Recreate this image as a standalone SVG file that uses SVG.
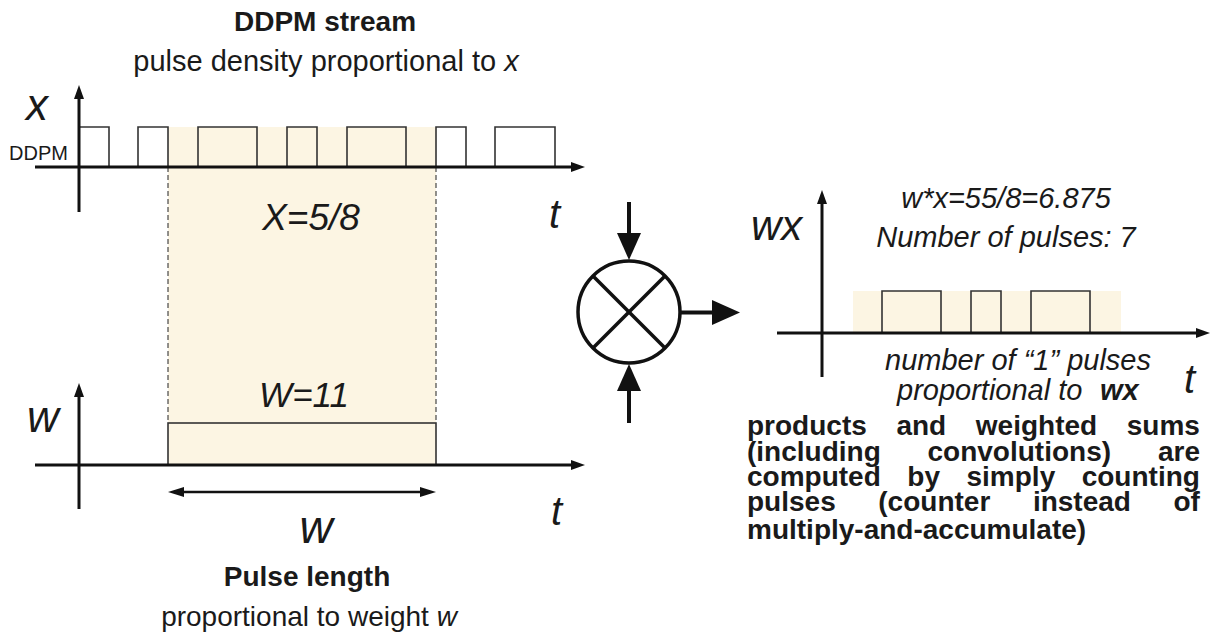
<svg xmlns="http://www.w3.org/2000/svg" width="1215" height="639" viewBox="0 0 1215 639">
<style>
  text { font-family: "Liberation Sans", Arial, sans-serif; fill: #1a1a1a; }
  .it { font-style: italic; }
  .b { font-weight: bold; }
  .axis { stroke: #111; stroke-width: 3; fill: none; }
  .pulse { stroke: #333; stroke-width: 1.6; fill: none; }
  .shade { fill: #fcf5e3; stroke: none; }
  .dash { stroke: #222; stroke-width: 1; stroke-dasharray: 5 3; fill: none; }
  .conn { stroke: #111; stroke-width: 4; fill: none; }
  .head { fill: #111; stroke: none; }
</style>
<defs>
  <marker id="ax" markerUnits="userSpaceOnUse" markerWidth="14" markerHeight="10" refX="6" refY="5" orient="auto">
    <path d="M0,0 L14,5 L0,10 Z" fill="#111"/>
  </marker>
  <marker id="dh" markerUnits="userSpaceOnUse" markerWidth="16" markerHeight="10" refX="8" refY="5" orient="auto-start-reverse">
    <path d="M0,0 L16,5 L0,10 Z" fill="#111"/>
  </marker>
</defs>
<rect width="1215" height="639" fill="#ffffff"/>

<!-- top chart: DDPM stream -->
<g id="ddpm-chart">
  <rect class="shade" x="168" y="127" width="268" height="338"/>
  <line class="dash" x1="168" y1="167" x2="168" y2="423"/>
  <line class="dash" x1="436" y1="167" x2="436" y2="423"/>
  <path class="pulse" d="M79,167 V127 H109 V167 M138,167 V127 H168 V167 M198,167 V127 H257 V167 M287,167 V127 H317 V167 M347,167 V127 H406 V167 M436,167 V127 H466 V167 M495,167 V127 H555 V167"/>
  <line class="axis" x1="35" y1="167" x2="577" y2="167" marker-end="url(#ax)"/>
  <line class="axis" x1="79" y1="212" x2="79" y2="93" marker-end="url(#ax)"/>
  <text class="b" x="325" y="31" font-size="28" text-anchor="middle">DDPM stream</text>
  <text x="326" y="71" font-size="29" text-anchor="middle">pulse density proportional to <tspan class="it">x</tspan></text>
  <text class="it" x="26" y="120" font-size="44">x</text>
  <text x="9" y="160" font-size="20">DDPM</text>
  <text class="it" x="311" y="230" font-size="37" text-anchor="middle">X=5/8</text>
  <text class="it" x="549" y="228" font-size="40">t</text>
</g>

<!-- bottom chart: weight pulse -->
<g id="weight-chart">
  <rect x="168" y="423" width="268" height="42" fill="#fcf5e3" stroke="#333" stroke-width="1.6"/>
  <line class="axis" x1="35" y1="465" x2="577" y2="465" marker-end="url(#ax)"/>
  <line class="axis" x1="79" y1="509" x2="79" y2="391" marker-end="url(#ax)"/>
  <line x1="176" y1="492" x2="428" y2="492" stroke="#111" stroke-width="2.5" marker-start="url(#dh)" marker-end="url(#dh)"/>
  <text class="it" x="304" y="407" font-size="35" text-anchor="middle">W=11</text>
  <text class="it" x="27" y="432" font-size="44">w</text>
  <text class="it" x="316" y="543" font-size="46" text-anchor="middle">w</text>
  <text class="it" x="551" y="525" font-size="40">t</text>
  <text class="b" x="307" y="586" font-size="28" text-anchor="middle">Pulse length</text>
  <text x="309" y="626" font-size="28" text-anchor="middle">proportional to weight <tspan class="it">w</tspan></text>
</g>

<!-- multiplier -->
<g id="multiplier">
  <circle cx="629" cy="312" r="51" fill="none" stroke="#111" stroke-width="3.5"/>
  <line x1="593" y1="276" x2="665" y2="348" stroke="#111" stroke-width="3.5"/>
  <line x1="665" y1="276" x2="593" y2="348" stroke="#111" stroke-width="3.5"/>
</g>

<!-- connectors into / out of multiplier -->
<g id="connectors">
  <line class="conn" x1="629" y1="202" x2="629" y2="236"/>
  <polygon class="head" points="617,233 641,233 629,260"/>
  <line class="conn" x1="629" y1="423" x2="629" y2="388"/>
  <polygon class="head" points="617,391 641,391 629,364"/>
  <line class="conn" x1="681" y1="312.5" x2="715" y2="312.5"/>
  <polygon class="head" points="712,300 712,325 740,312.5"/>
</g>

<!-- result chart -->
<g id="result-chart">
  <rect class="shade" x="853" y="291" width="268" height="42"/>
  <path class="pulse" d="M882,333 V291 H941 V333 M971,333 V291 H1001 V333 M1031,333 V291 H1090 V333"/>
  <line class="axis" x1="777" y1="333" x2="1202" y2="333" marker-end="url(#ax)"/>
  <line class="axis" x1="822" y1="377" x2="822" y2="198" marker-end="url(#ax)"/>
  <text class="it" x="751" y="240" font-size="42">wx</text>
  <text class="it" x="1006" y="208" font-size="29" text-anchor="middle">w*x=55/8=6.875</text>
  <text class="it" x="1006" y="247" font-size="29" text-anchor="middle">Number of pulses: 7</text>
  <text class="it" x="885" y="370" font-size="29">number of “1” pulses</text>
  <text class="it" x="897" y="400" font-size="29">proportional to</text>
  <text class="it b" x="1100" y="400" font-size="29">wx</text>
  <text class="it" x="1184" y="393" font-size="40">t</text>
</g>

<!-- explanatory paragraph -->
<g id="note">
  <text class="b" y="435" font-size="28"><tspan x="747">products</tspan><tspan x="896.4">and</tspan><tspan x="975.8">weighted</tspan><tspan x="1126.8">sums</tspan></text>
  <text class="b" y="461" font-size="28"><tspan x="747">(including</tspan><tspan x="927.5">convolutions)</tspan><tspan x="1158">are</tspan></text>
  <text class="b" y="486" font-size="28"><tspan x="747">computed</tspan><tspan x="907.3">by</tspan><tspan x="966.5">simply</tspan><tspan x="1081.7">counting</tspan></text>
  <text class="b" y="511" font-size="28"><tspan x="747">pulses</tspan><tspan x="878.3">(counter</tspan><tspan x="1032.9">instead</tspan><tspan x="1173.5">of</tspan></text>
  <text class="b" x="747" y="539" font-size="28">multiply-and-accumulate)</text>
</g>
</svg>
